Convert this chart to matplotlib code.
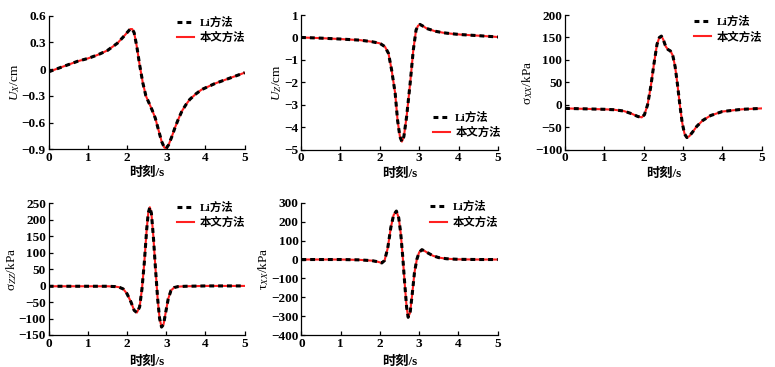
import matplotlib
matplotlib.use("Agg")
import matplotlib.pyplot as plt

plt.rcParams['font.family'] = ['Liberation Serif', 'Noto Sans CJK SC', 'DejaVu Sans']
plt.rcParams['mathtext.fontset'] = 'custom'
plt.rcParams['mathtext.rm'] = 'Liberation Serif'
plt.rcParams['mathtext.it'] = 'Liberation Serif:italic'
plt.rcParams['mathtext.bf'] = 'Liberation Serif:bold'
plt.rcParams['axes.unicode_minus'] = False

# ---------------- data ----------------
t_ux = [0, 0.25, 0.5, 0.75, 1.0, 1.25, 1.5, 1.75, 1.9, 2.0, 2.08, 2.13, 2.18, 2.25, 2.32, 2.4, 2.48, 2.56, 2.64, 2.72, 2.8, 2.88, 2.95, 3.0, 3.06, 3.14, 3.22, 3.3, 3.4, 3.5, 3.6, 3.75, 3.9, 4.0, 4.25, 4.5, 4.75, 5.0]
ux = [-0.03, 0.01, 0.05, 0.09, 0.12, 0.16, 0.21, 0.29, 0.36, 0.41, 0.45, 0.45, 0.41, 0.25, 0.05, -0.15, -0.30, -0.38, -0.46, -0.55, -0.68, -0.81, -0.88, -0.89, -0.85, -0.76, -0.66, -0.57, -0.47, -0.40, -0.34, -0.28, -0.23, -0.21, -0.16, -0.12, -0.08, -0.04]

t_uz = [0, 0.5, 1.0, 1.5, 1.8, 2.0, 2.13, 2.22, 2.30, 2.39, 2.45, 2.51, 2.56, 2.61, 2.68, 2.77, 2.85, 2.92, 2.97, 3.02, 3.1, 3.19, 3.4, 3.61, 3.8, 4.04, 4.5, 5.0]
uz = [0.0, -0.03, -0.07, -0.12, -0.19, -0.26, -0.41, -0.71, -1.45, -2.49, -3.68, -4.42, -4.64, -4.42, -3.53, -2.04, -0.56, 0.33, 0.52, 0.58, 0.50, 0.40, 0.28, 0.21, 0.17, 0.13, 0.08, 0.02]

t_sxx = [0, 0.5, 1.0, 1.25, 1.5, 1.7, 1.85, 1.95, 2.02, 2.1, 2.18, 2.26, 2.34, 2.4, 2.45, 2.5, 2.56, 2.62, 2.68, 2.74, 2.8, 2.86, 2.92, 2.98, 3.04, 3.1, 3.16, 3.25, 3.35, 3.5, 3.7, 4.0, 4.5, 5.0]
sxx = [-8, -9, -10, -11, -14, -20, -26, -28, -22, 0, 40, 90, 135, 150, 153, 145, 130, 123, 120, 110, 85, 45, 0, -40, -65, -73, -70, -60, -48, -35, -24, -15, -10, -8]

t_szz = [0, 0.5, 1.0, 1.5, 1.7, 1.8, 1.9, 2.0, 2.1, 2.18, 2.25, 2.32, 2.38, 2.44, 2.5, 2.54, 2.58, 2.62, 2.67, 2.72, 2.78, 2.83, 2.88, 2.93, 2.98, 3.05, 3.12, 3.2, 3.3, 3.5, 4.0, 4.5, 5.0]
szz = [-2, -2, -2, -2, -3, -5, -10, -25, -50, -75, -82, -65, -10, 70, 170, 220, 238, 220, 150, 60, -40, -100, -126, -118, -85, -40, -15, -6, -3, -2, -1, -1, -1]

t_txz = [0, 0.5, 1.0, 1.5, 1.8, 1.95, 2.05, 2.12, 2.2, 2.28, 2.35, 2.42, 2.48, 2.53, 2.58, 2.63, 2.68, 2.72, 2.77, 2.82, 2.88, 2.94, 3.0, 3.07, 3.14, 3.22, 3.35, 3.5, 3.7, 4.0, 4.5, 5.0]
txz = [0, 0, 0, -2, -6, -12, -18, -5, 60, 170, 235, 256, 220, 140, 20, -120, -250, -305, -280, -190, -70, 0, 38, 52, 45, 35, 20, 10, 4, 1, 0, 0]

legend_labels = ['Li方法', '本文方法']
xticks = [0, 1, 2, 3, 4, 5]

panels = [
    dict(t=t_ux, y=ux, ylabel=r'$U_X$/cm', ylim=(-0.9, 0.6), yticks=[-0.9, -0.6, -0.3, 0, 0.3, 0.6],
         yticklabels=['−0.9', '−0.6', '−0.3', '0', '0.3', '0.6'],
         pos=[0.0628, 0.5932, 0.2529, 0.364], leg=('upper right', (1.01, 1.0)), xlp=2),
    dict(t=t_uz, y=uz, ylabel=r'$U_Z$/cm', ylim=(-5, 1), yticks=[-5, -4, -3, -2, -1, 0, 1],
         yticklabels=['−5', '−4', '−3', '−2', '−1', '0', '1'],
         pos=[0.3884, 0.5921, 0.2542, 0.367], leg=('lower right', (1.02, 0.08)), xlp=2),
    dict(t=t_sxx, y=sxx, ylabel=r'σ$_{XX}$/kPa', ylim=(-100, 200), yticks=[-100, -50, 0, 50, 100, 150, 200],
         yticklabels=['−100', '−50', '0', '50', '100', '150', '200'],
         pos=[0.729, 0.5921, 0.2538, 0.367], leg=('upper right', (1.01, 1.0)), xlp=2),
    dict(t=t_szz, y=szz, ylabel=r'σ$_{ZZ}$/kPa', ylim=(-150, 250), yticks=[-150, -100, -50, 0, 50, 100, 150, 200, 250],
         yticklabels=['−150', '−100', '−50', '0', '50', '100', '150', '200', '250'],
         pos=[0.0628, 0.0872, 0.2529, 0.3589], leg=('upper right', (1.01, 1.02)), xlp=4),
    dict(t=t_txz, y=txz, ylabel=r'τ$_{XX}$/kPa', ylim=(-400, 300), yticks=[-400, -300, -200, -100, 0, 100, 200, 300],
         yticklabels=['−400', '−300', '−200', '−100', '0', '100', '200', '300'],
         pos=[0.3888, 0.0864, 0.2534, 0.3613], leg=('upper right', (1.01, 1.02)), xlp=4),
]

fig = plt.figure(figsize=(7.75, 3.67), dpi=100)
fs = 9.5
lfs = 8.2
for p in panels:
    ax = fig.add_axes(p['pos'])
    ax.plot(p['t'], p['y'], color='#ff2020', lw=1.5, zorder=2, label=legend_labels[1])
    ax.plot(p['t'], p['y'], color='black', lw=2.2, ls=(0, (1.6, 1.3)), zorder=3, label=legend_labels[0])
    ax.set_xlim(0, 5)
    ax.set_ylim(*p['ylim'])
    ax.set_xticks(xticks)
    ax.set_xticklabels([str(v) for v in xticks], fontsize=fs, fontweight='bold')
    ax.set_yticks(p['yticks'])
    ax.set_yticklabels(p['yticklabels'], fontsize=fs, fontweight='bold')
    for s in ['top', 'right']:
        ax.spines[s].set_visible(False)
    for s in ['left', 'bottom']:
        ax.spines[s].set_linewidth(0.9)
    ax.tick_params(direction='in', length=3, width=0.9, pad=2)
    ax.set_xlabel('时刻/s', fontsize=fs, fontweight='bold', labelpad=p['xlp'])
    ax.set_ylabel(p['ylabel'], fontsize=fs, labelpad=0)
    h, l = ax.get_legend_handles_labels()
    loc, anchor = p['leg']
    ax.legend([h[1], h[0]], [l[1], l[0]], loc=loc, bbox_to_anchor=anchor, frameon=False,
              prop={'size': lfs, 'weight': 'bold'}, handlelength=1.5,
              borderaxespad=0.0, borderpad=0.1, labelspacing=0.35, handletextpad=0.5)

fig.savefig('out.png', dpi=100)
